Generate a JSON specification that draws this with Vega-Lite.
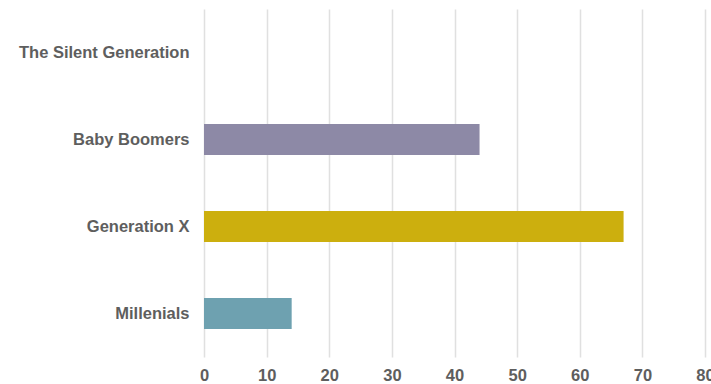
{
  "$schema": "https://vega.github.io/schema/vega-lite/v6.json",
  "width": 501,
  "height": 348,
  "autosize": {"type": "none"},
  "padding": {"left": 204, "top": 9, "right": 6, "bottom": 27},
  "background": "white",
  "data": {
    "values": [
      {"generation": "The Silent Generation", "value": 0},
      {"generation": "Baby Boomers", "value": 44},
      {"generation": "Generation X", "value": 67},
      {"generation": "Millenials", "value": 14}
    ]
  },
  "mark": {"type": "bar"},
  "encoding": {
    "y": {
      "field": "generation",
      "type": "nominal",
      "sort": ["The Silent Generation", "Baby Boomers", "Generation X", "Millenials"],
      "scale": {"paddingInner": 0.644, "paddingOuter": 0.322},
      "axis": {
        "title": null,
        "domain": false,
        "ticks": false,
        "labelPadding": 15,
        "labelFont": "Liberation Sans",
        "labelFontSize": 16.5,
        "labelFontWeight": "bold",
        "labelColor": "#5E5E5E",
        "labelLimit": 300
      }
    },
    "x": {
      "field": "value",
      "type": "quantitative",
      "scale": {"domain": [0, 80], "nice": false},
      "axis": {
        "title": null,
        "values": [0, 10, 20, 30, 40, 50, 60, 70, 80],
        "domain": false,
        "ticks": false,
        "grid": true,
        "gridColor": "#E0E0E0",
        "gridWidth": 1.5,
        "labelPadding": 10,
        "labelFont": "Liberation Sans",
        "labelFontSize": 16.5,
        "labelFontWeight": "bold",
        "labelColor": "#5E5E5E",
        "labelFlush": false,
        "labelOverlap": false
      }
    },
    "color": {
      "field": "generation",
      "type": "nominal",
      "scale": {
        "domain": ["The Silent Generation", "Baby Boomers", "Generation X", "Millenials"],
        "range": ["#5B7FA6", "#8D89A6", "#CCAF0E", "#6EA1B0"]
      },
      "legend": null
    }
  },
  "config": {"view": {"stroke": null}}
}
